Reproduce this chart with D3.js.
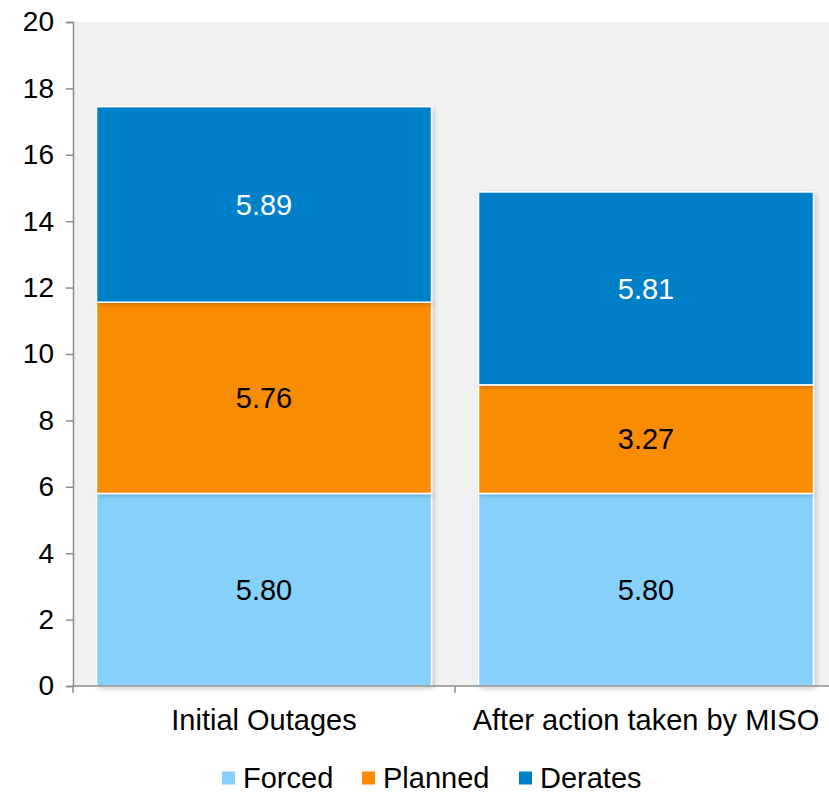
<!DOCTYPE html>
<html>
<head>
<meta charset="utf-8">
<script src="https://cdn.jsdelivr.net/npm/d3@7"></script>
<style>
  body { margin: 0; background: #fff; }
  svg { display: block; font-family: "Liberation Sans", Arial, sans-serif; }
</style>
</head>
<body>
<div id="chart"></div>
<script>
const categories = ['Initial Outages', 'After action taken by MISO'];
const seriesNames = ['Forced', 'Planned', 'Derates'];
const forced = [5.80, 5.80];
const planned = [5.76, 3.27];
const derates = [5.89, 5.81];
const yTicks = [0, 2, 4, 6, 8, 10, 12, 14, 16, 18, 20];
const colors = ['#85d1fb', '#f98c00', '#0080c8'];
const labelColors = ['#000', '#000', '#fff'];

const width = 829, height = 793;
const margin = { top: 22, right: -8, bottom: 107, left: 73 };
const innerW = width - margin.left - margin.right;
const innerH = height - margin.top - margin.bottom;

const svg = d3.select('#chart').append('svg')
    .attr('width', width)
    .attr('height', height);

const defs = svg.append('defs');
const shadow = defs.append('filter').attr('id', 'shadow')
    .attr('x', '-5%').attr('y', '-5%').attr('width', '115%').attr('height', '115%');
shadow.append('feDropShadow')
    .attr('dx', 2).attr('dy', 2).attr('stdDeviation', 2)
    .attr('flood-color', '#000').attr('flood-opacity', 0.18);

const g = svg.append('g')
    .attr('transform', `translate(${margin.left}, ${margin.top})`);

g.append('rect')
    .attr('width', innerW)
    .attr('height', innerH)
    .attr('fill', '#f1f1f1');

const x = d3.scaleBand().domain(categories).range([0, innerW]).paddingInner(0.123).paddingOuter(0.0615);
const y = d3.scaleLinear().domain([0, 20]).range([innerH, 0]);

const rows = categories.map((c, i) => ({ cat: c, Forced: forced[i], Planned: planned[i], Derates: derates[i] }));
const stacked = d3.stack().keys(seriesNames)(rows);

const layers = g.selectAll('.layer').data(stacked).join('g')
    .attr('class', 'layer')
    .attr('fill', (d, i) => colors[i]);

layers.selectAll('rect').data(d => d).join('rect')
    .attr('x', d => x(d.data.cat))
    .attr('y', d => y(d[1]))
    .attr('width', x.bandwidth())
    .attr('height', d => y(d[0]) - y(d[1]))
    .attr('stroke', '#fff')
    .attr('stroke-width', 1.5)
    .attr('filter', 'url(#shadow)');

layers.each(function (layer, li) {
    d3.select(this).selectAll('text').data(layer).join('text')
        .attr('x', d => x(d.data.cat) + x.bandwidth() / 2)
        .attr('y', d => y((d[0] + d[1]) / 2))
        .attr('dy', '0.35em')
        .attr('text-anchor', 'middle')
        .attr('font-size', 29)
        .attr('fill', labelColors[li])
        .text(d => d3.format('.2f')(d[1] - d[0]));
});

// y axis
const yAxis = g.append('g')
    .call(d3.axisLeft(y).tickValues(yTicks).tickSize(7).tickPadding(12));
yAxis.select('.domain').attr('stroke', '#8c8c8c').attr('stroke-width', 1.5);
yAxis.selectAll('.tick line').attr('stroke', '#8c8c8c').attr('stroke-width', 1.5);
yAxis.selectAll('.tick text').attr('font-size', 28).attr('fill', '#000')
    .attr('font-family', '"Liberation Sans", Arial, sans-serif');

// x axis
const xAxisG = g.append('g').attr('transform', `translate(0, ${innerH})`);
xAxisG.append('line')
    .attr('x1', 0).attr('x2', innerW)
    .attr('stroke', '#8c8c8c').attr('stroke-width', 1.5);
const boundaries = [0, innerW / 2, innerW];
xAxisG.selectAll('.xtick').data(boundaries).join('line')
    .attr('class', 'xtick')
    .attr('x1', d => d).attr('x2', d => d)
    .attr('y1', 0).attr('y2', 7)
    .attr('stroke', '#8c8c8c').attr('stroke-width', 1.5);
xAxisG.selectAll('.xlabel').data(categories).join('text')
    .attr('class', 'xlabel')
    .attr('x', d => x(d) + x.bandwidth() / 2)
    .attr('y', 44)
    .attr('text-anchor', 'middle')
    .attr('font-size', 29)
    .attr('fill', '#000')
    .text(d => d);

// legend
const legendX = [222, 362, 519];
const legend = svg.append('g').attr('transform', 'translate(0, 778)');
const items = legend.selectAll('g').data(seriesNames).join('g')
    .attr('transform', (d, i) => `translate(${legendX[i]}, 0)`);
items.append('rect')
    .attr('x', 0).attr('y', -6.5)
    .attr('width', 13).attr('height', 13)
    .attr('fill', (d, i) => colors[i]);
items.append('text')
    .attr('x', 21)
    .attr('y', 0)
    .attr('dy', '0.36em')
    .attr('font-size', 29)
    .attr('fill', '#000')
    .text(d => d);
</script>
</body>
</html>
